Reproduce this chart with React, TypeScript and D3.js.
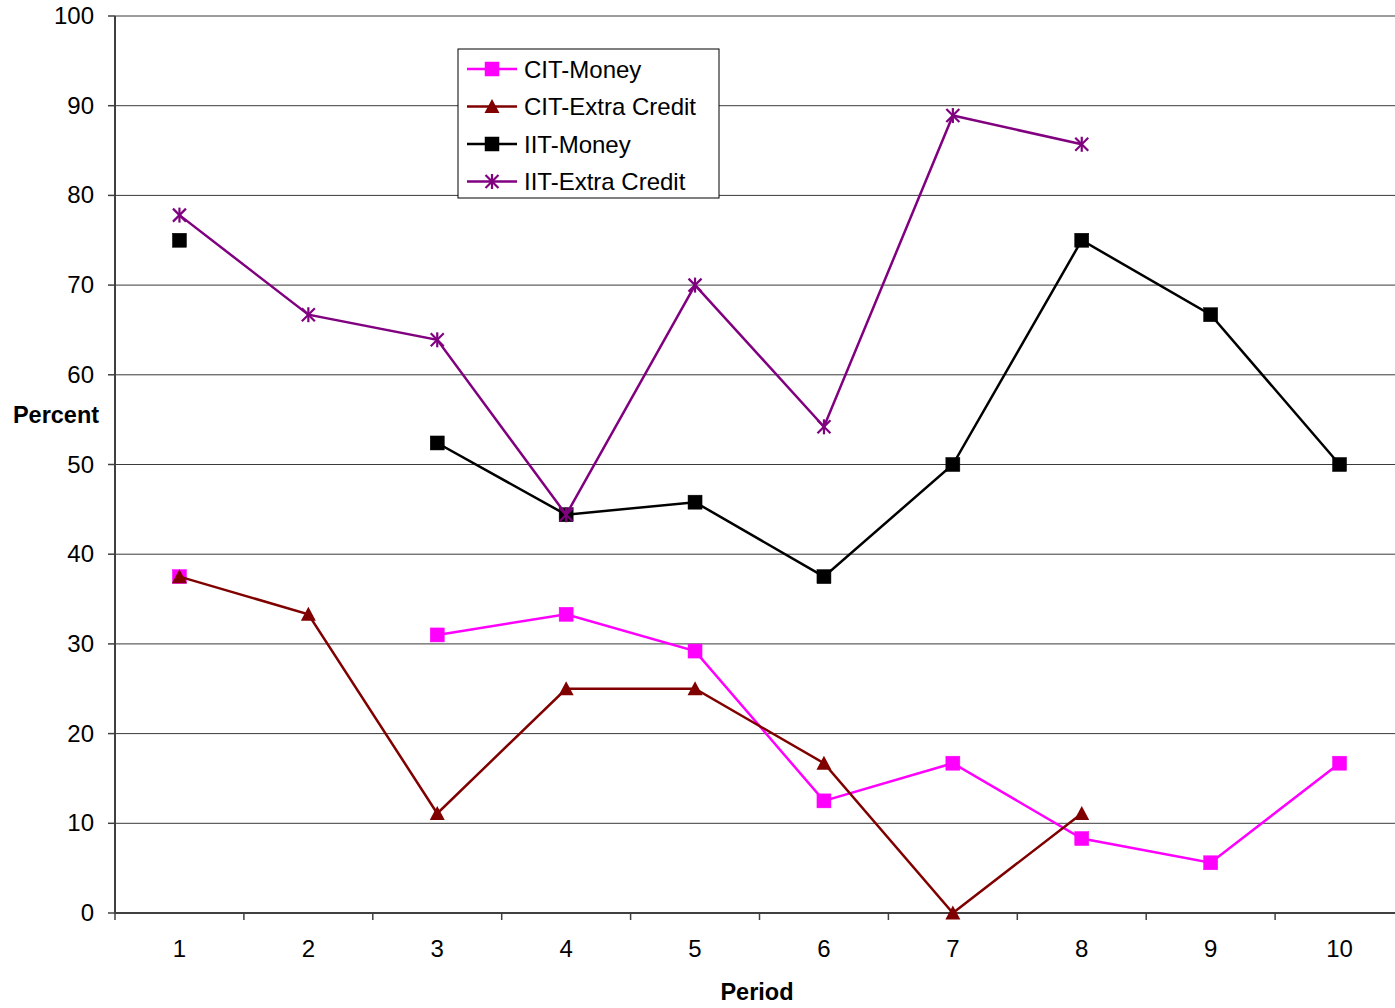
import React from "react";
import * as d3 from "d3";

const periods = ["1", "2", "3", "4", "5", "6", "7", "8", "9", "10"];
const yTicks = [0, 10, 20, 30, 40, 50, 60, 70, 80, 90, 100];
const citMoney: (number | null)[] = [37.5, null, 31, 33.3, 29.2, 12.5, 16.7, 8.3, 5.6, 16.7];
const citExtra: (number | null)[] = [37.5, 33.3, 11.1, 25, 25, 16.7, 0, 11.1, null, null];
const iitMoney: (number | null)[] = [75, null, 52.4, 44.4, 45.8, 37.5, 50, 75, 66.7, 50];
const iitExtra: (number | null)[] = [77.8, 66.7, 63.9, 44.4, 70, 54.2, 88.9, 85.7, null, null];

const seriesNames = ["CIT-Money", "CIT-Extra Credit", "IIT-Money", "IIT-Extra Credit"];
const seriesData = [citMoney, citExtra, iitMoney, iitExtra];
const seriesColors = ["#FF00FF", "#800000", "#000000", "#800080"];
const seriesMarkers = ["square", "triangle", "square", "star"];

const W = 1395, H = 1008;
const left = 115, top = 16, bottom = 913;
const catW = 128.9;

function Marker({ type, x, y, color }: { type: string; x: number; y: number; color: string }) {
  if (type === "square") {
    return <rect x={x - 7} y={y - 7} width={14} height={14} fill={color} stroke={color} strokeWidth={0.5} />;
  }
  if (type === "triangle") {
    return <path d={`M${x},${y - 7.5}L${x + 7.5},${y + 6.5}L${x - 7.5},${y + 6.5}Z`} fill={color} />;
  }
  const r = 6.5;
  return (
    <g stroke={color} strokeWidth={2.2}>
      <line x1={x - r} y1={y - r} x2={x + r} y2={y + r} />
      <line x1={x - r} y1={y + r} x2={x + r} y2={y - r} />
      <line x1={x} y1={y - r - 1} x2={x} y2={y + r + 1} />
    </g>
  );
}

export default function App() {
  const x = d3.scaleBand<string>().domain(periods).range([left, left + catW * periods.length]);
  const y = d3.scaleLinear().domain([0, 100]).range([bottom, top]);
  const cx = (i: number) => (x(periods[i]) as number) + x.bandwidth() / 2;
  const line = d3
    .line<number | null>()
    .defined((d) => d !== null)
    .x((_, i) => cx(i))
    .y((d) => y(d as number));

  const font = "'Liberation Sans', Arial, sans-serif";
  const legendX = 458, legendY = 49;
  return (
    <svg width={W} height={H} style={{ position: "absolute", left: 0, top: 0, background: "#fff" }} fontFamily={font}>
      {/* grid */}
      {yTicks.map((t) => (
        <line key={t} x1={left} x2={W} y1={y(t)} y2={y(t)} stroke={t === 0 ? "#404040" : "#3a3a3a"} strokeWidth={t === 0 ? 2 : 1} />
      ))}
      {/* y axis */}
      <line x1={left} x2={left} y1={top} y2={bottom} stroke="#404040" strokeWidth={2} />
      {yTicks.map((t) => (
        <g key={"yt" + t}>
          <line x1={left - 7} x2={left} y1={y(t)} y2={y(t)} stroke="#404040" strokeWidth={1.5} />
          <text x={94} y={y(t) + 8} textAnchor="end" fontSize={24}>{t}</text>
        </g>
      ))}
      {/* x ticks */}
      {periods.map((p, i) => (
        <g key={"xt" + p}>
          <line x1={x(p) as number} x2={x(p) as number} y1={bottom} y2={bottom + 7} stroke="#404040" strokeWidth={1.5} />
          <text x={cx(i)} y={957} textAnchor="middle" fontSize={24}>{p}</text>
        </g>
      ))}
      <text x={56} y={423} textAnchor="middle" fontSize={23.5} fontWeight="bold">Percent</text>
      <text x={757} y={1000} textAnchor="middle" fontSize={23.5} fontWeight="bold">Period</text>
      {/* series */}
      {seriesData.map((data, si) => (
        <g key={seriesNames[si]}>
          <path d={line(data) || ""} fill="none" stroke={seriesColors[si]} strokeWidth={2.5} />
          {data.map((v, i) =>
            v === null ? null : <Marker key={i} type={seriesMarkers[si]} x={cx(i)} y={y(v)} color={seriesColors[si]} />
          )}
        </g>
      ))}
      {/* legend */}
      <rect x={legendX} y={legendY} width={261} height={149} fill="#fff" stroke="#000" strokeWidth={1} />
      {seriesNames.map((n, i) => {
        const ly = 69 + i * 37.5;
        return (
          <g key={"lg" + n}>
            <line x1={467} x2={517} y1={ly} y2={ly} stroke={seriesColors[i]} strokeWidth={2.5} />
            <Marker type={seriesMarkers[i]} x={492} y={ly} color={seriesColors[i]} />
            <text x={524} y={ly + 8.5} fontSize={24}>{n}</text>
          </g>
        );
      })}
    </svg>
  );
}
